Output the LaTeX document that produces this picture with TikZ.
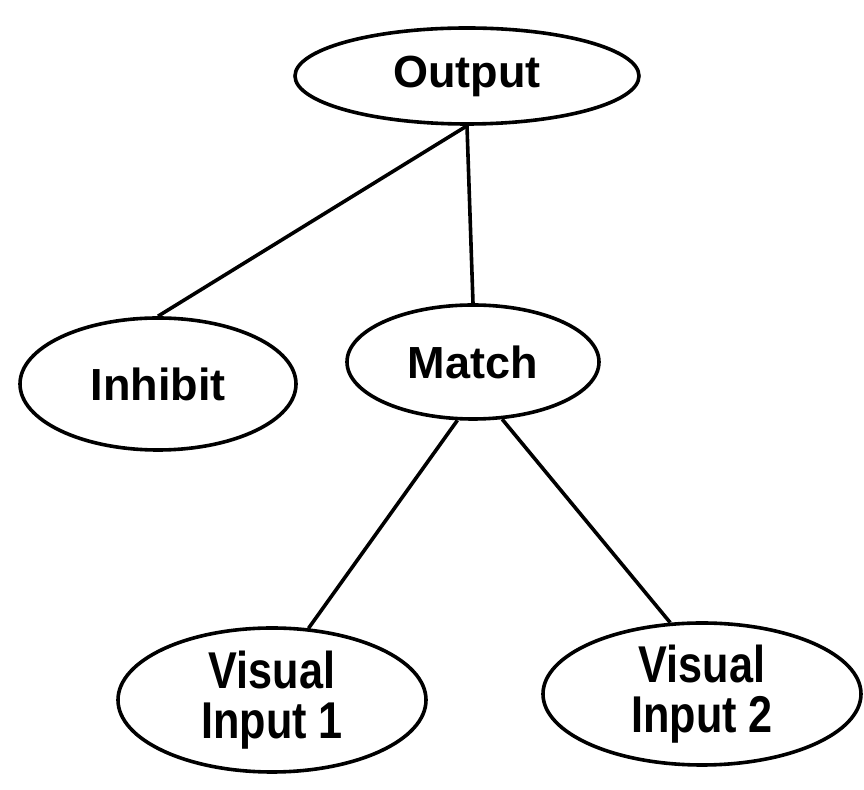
\documentclass[tikz,border=0pt]{standalone}
\usepackage{fontspec}
\usepackage{graphicx}
\setmainfont{Liberation Sans}
\usetikzlibrary{shapes.geometric}
\newcommand{\tallword}[1]{\scalebox{0.96}[1.15]{#1}}
\begin{document}
\begin{tikzpicture}[x=0.5pt, y=-0.5pt, line width=1.8pt,
        every node/.style={font=\bfseries\fontsize{22.5}{25}\selectfont, align=center},
        blob/.style={draw, ellipse, inner sep=0pt}]
    \useasboundingbox (0,0) rectangle (864,790);
    % ellipses
    \node[blob, minimum width=172pt, minimum height=48pt] (out) at (467,76) {Output};
    \node[blob, minimum width=138pt, minimum height=66pt] (inh) at (158,384) {Inhibit};
    \node[blob, minimum width=126pt, minimum height=57pt] (match) at (473,362) {Match};
    \node[blob, minimum width=154pt, minimum height=72pt] (vis1) at (272,700) {\tallword{Visual}\\\tallword{Input 1}};
    \node[blob, minimum width=159pt, minimum height=71pt] (vis2) at (702,694) {\tallword{Visual}\\\tallword{Input 2}};
    % links
    \draw (out.south) -- (inh.north);
    \draw (out.south) -- (match.north);
    \draw (match.255) -- (vis1.63);
    \draw (match.297) -- (vis2.114);
\end{tikzpicture}
\end{document}
